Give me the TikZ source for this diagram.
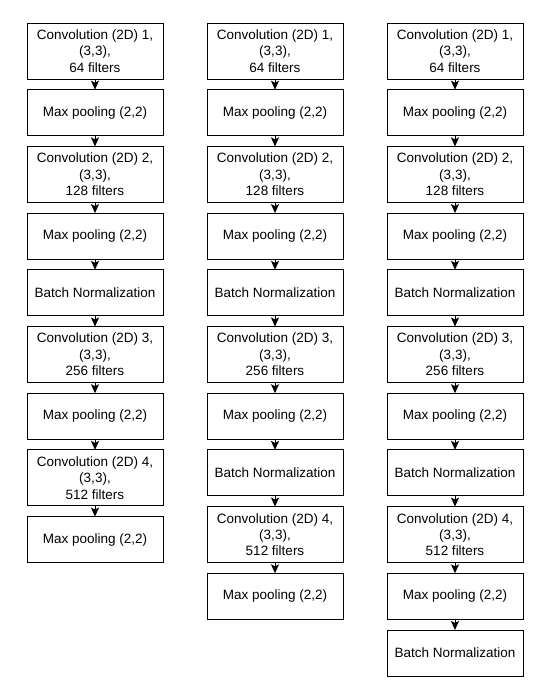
\documentclass[tikz,border=0pt]{standalone}
\usepackage{fontspec}
\setmainfont{Liberation Sans}
\usepackage{tikz}
\usetikzlibrary{positioning, arrows.meta}

\tikzset{
    layer/.style={draw, line width=1pt, minimum width=136pt, minimum height=46pt,
        align=center, inner sep=1pt, outer sep=0pt, font=\fontsize{13.5}{16.4}\selectfont},
    convlayer/.style={layer, minimum height=56pt},
    flow/.style={line width=1pt, -{Stealth[length=9pt, width=8pt, inset=2pt]}}
}

\begin{document}
\begin{tikzpicture}[x=1pt, y=-1pt, node distance=10.7pt]
    \useasboundingbox (0,0) rectangle (551,686);

    % first column
    \node[convlayer, anchor=north] (a1) at (95,23) {Convolution (2D) 1,\\(3,3),\\64 filters};
    \node[layer, below=of a1] (a2) {Max pooling (2,2)};
    \node[convlayer, below=of a2] (a3) {Convolution (2D) 2,\\(3,3),\\128 filters};
    \node[layer, below=of a3] (a4) {Max pooling (2,2)};
    \node[layer, below=of a4] (a5) {Batch Normalization};
    \node[convlayer, below=of a5] (a6) {Convolution (2D) 3,\\(3,3),\\256 filters};
    \node[layer, below=of a6] (a7) {Max pooling (2,2)};
    \node[convlayer, below=of a7] (a8) {Convolution (2D) 4,\\(3,3),\\512 filters};
    \node[layer, below=of a8] (a9) {Max pooling (2,2)};

    % second column
    \node[convlayer, anchor=north] (b1) at (275,23) {Convolution (2D) 1,\\(3,3),\\64 filters};
    \node[layer, below=of b1] (b2) {Max pooling (2,2)};
    \node[convlayer, below=of b2] (b3) {Convolution (2D) 2,\\(3,3),\\128 filters};
    \node[layer, below=of b3] (b4) {Max pooling (2,2)};
    \node[layer, below=of b4] (b5) {Batch Normalization};
    \node[convlayer, below=of b5] (b6) {Convolution (2D) 3,\\(3,3),\\256 filters};
    \node[layer, below=of b6] (b7) {Max pooling (2,2)};
    \node[layer, below=of b7] (b8) {Batch Normalization};
    \node[convlayer, below=of b8] (b9) {Convolution (2D) 4,\\(3,3),\\512 filters};
    \node[layer, below=of b9] (b10) {Max pooling (2,2)};

    % third column
    \node[convlayer, anchor=north] (c1) at (455,23) {Convolution (2D) 1,\\(3,3),\\64 filters};
    \node[layer, below=of c1] (c2) {Max pooling (2,2)};
    \node[convlayer, below=of c2] (c3) {Convolution (2D) 2,\\(3,3),\\128 filters};
    \node[layer, below=of c3] (c4) {Max pooling (2,2)};
    \node[layer, below=of c4] (c5) {Batch Normalization};
    \node[convlayer, below=of c5] (c6) {Convolution (2D) 3,\\(3,3),\\256 filters};
    \node[layer, below=of c6] (c7) {Max pooling (2,2)};
    \node[layer, below=of c7] (c8) {Batch Normalization};
    \node[convlayer, below=of c8] (c9) {Convolution (2D) 4,\\(3,3),\\512 filters};
    \node[layer, below=of c9] (c10) {Max pooling (2,2)};
    \node[layer, below=of c10] (c11) {Batch Normalization};

    % connections
    \foreach \i [count=\j from 2] in {1,...,8}
        \draw[flow] (a\i) -- (a\j);
    \foreach \i [count=\j from 2] in {1,...,9}
        \draw[flow] (b\i) -- (b\j);
    \foreach \i [count=\j from 2] in {1,...,10}
        \draw[flow] (c\i) -- (c\j);
\end{tikzpicture}
\end{document}
